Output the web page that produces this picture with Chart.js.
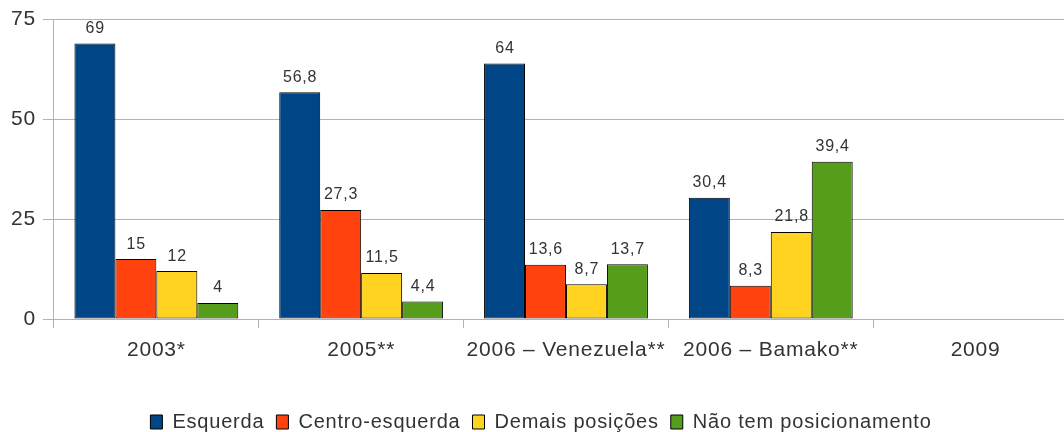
<!DOCTYPE html>
<html>
<head>
<meta charset="utf-8">
<script src="https://cdn.jsdelivr.net/npm/chart.js@4"></script>
<style>
  body { margin: 0; background: #fff; overflow: hidden; }
  #wrap { width: 1064px; height: 432px; overflow: hidden; }
</style>
</head>
<body>
<div id="wrap"><canvas id="myChart" width="1078" height="432"></canvas></div>
<script>
const categories = ["2003*", "2005**", "2006 – Venezuela**", "2006 – Bamako**", "2009"];
const esquerda = [69, 56.8, 64, 30.4, null];
const centroEsquerda = [15, 27.3, 13.6, 8.3, null];
const demaisPosicoes = [12, 11.5, 8.7, 21.8, null];
const naoTemPosicionamento = [4, 4.4, 13.7, 39.4, null];
const yTicks = [0, 25, 50, 75];

const fontFamily = "'Liberation Sans', Arial, sans-serif";

// the reference text is slightly spaced out
const spacing = {
  id: 'spacing',
  beforeUpdate(chart) { chart.ctx.letterSpacing = '0.8px'; },
  beforeDraw(chart) { chart.ctx.letterSpacing = '0.8px'; }
};

// draws the value above every bar, with a comma as decimal mark
const valueLabels = {
  id: 'valueLabels',
  afterDatasetsDraw(chart) {
    const c = chart.ctx;
    c.save();
    c.font = "16px " + fontFamily;
    c.letterSpacing = '0.8px';
    c.fillStyle = "#333333";
    c.textAlign = "center";
    c.textBaseline = "bottom";
    chart.data.datasets.forEach((ds, i) => {
      chart.getDatasetMeta(i).data.forEach((bar, j) => {
        const v = ds.data[j];
        if (v === null) return;
        c.fillText(String(v).replace('.', ','), bar.x + 0.4, bar.y - 7);
      });
    });
    c.restore();
  }
};

new Chart(document.getElementById('myChart'), {
  type: 'bar',
  data: {
    labels: categories,
    datasets: [
      { label: 'Esquerda', data: esquerda, backgroundColor: '#004586' },
      { label: 'Centro-esquerda', data: centroEsquerda, backgroundColor: '#ff420e' },
      { label: 'Demais posições', data: demaisPosicoes, backgroundColor: '#ffd320' },
      { label: 'Não tem posicionamento', data: naoTemPosicionamento, backgroundColor: '#579d1c' }
    ].map(d => Object.assign(d, {
      borderColor: '#000000', borderWidth: 1, borderSkipped: false,
      categoryPercentage: 0.8, barPercentage: 1
    }))
  },
  options: {
    responsive: false,
    animation: false,
    layout: { padding: { top: 11, right: 0, left: 4, bottom: -10 } },
    plugins: {
      tooltip: { enabled: false },
      legend: {
        position: 'bottom',
        labels: {
          color: '#333333',
          font: { family: fontFamily, size: 20 },
          boxWidth: 12,
          boxHeight: 14,
          padding: 12
        }
      }
    },
    scales: {
      x: {
        grid: { offset: true, drawOnChartArea: false, color: '#b3b3b3', tickLength: 9 },
        border: { color: '#b3b3b3' },
        ticks: {
          color: '#333333', font: { family: fontFamily, size: 21 }, padding: 10,
          maxRotation: 0, minRotation: 0, autoSkip: false
        },
        afterFit: axis => { axis.height = 81; }
      },
      y: {
        min: 0,
        max: 75,
        afterBuildTicks: axis => { axis.ticks = yTicks.map(v => ({ value: v })); },
        grid: { color: '#b3b3b3', tickLength: 11 },
        border: { color: '#b3b3b3' },
        ticks: { color: '#333333', font: { family: fontFamily, size: 21 }, padding: 7 }
      }
    }
  },
  plugins: [spacing, valueLabels]
});
</script>
</body>
</html>
